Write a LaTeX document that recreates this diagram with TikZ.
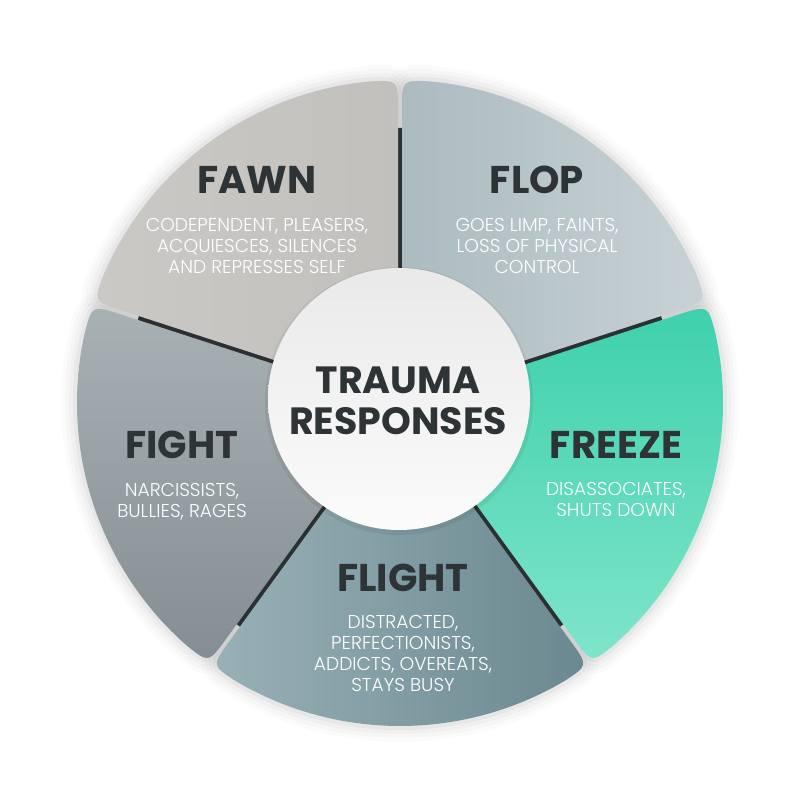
\documentclass[tikz,border=0pt]{standalone}
\usepackage{fontspec}
\setmainfont{Poppins}
\newfontfamily\lightfont{Poppins Light}
\usepackage{tikz}
\usetikzlibrary{positioning,calc}

\definecolor{ink}{HTML}{2E3335}
\definecolor{gapdark}{HTML}{2B3032}
\definecolor{fawnA}{HTML}{CBC9C6}
\definecolor{fawnB}{HTML}{C2C0BD}
\definecolor{flopA}{HTML}{ABBBC0}
\definecolor{flopB}{HTML}{C8D2D5}
\definecolor{freezeA}{HTML}{3ED0AC}
\definecolor{freezeB}{HTML}{80E5CA}
\definecolor{flightA}{HTML}{98B1B6}
\definecolor{flightB}{HTML}{6A888F}
\definecolor{fightA}{HTML}{A8B1B4}
\definecolor{fightB}{HTML}{848E92}

% one petal of the ring, from angle #1 to angle #2 (counter-clockwise)
\newcommand{\petal}[2]{%
  ($(#1:60)+(#1+90:2)$) -- ($(#1:293)+(#1+90:2)$)
  .. controls ($(#1:323)+(#1+90:2)$) .. (#1+5.3:323)
  arc[start angle=#1+5.3, end angle=#2-5.3, radius=323]
  .. controls ($(#2:323)+(#2-90:2)$) .. ($(#2:293)+(#2-90:2)$)
  -- ($(#2:60)+(#2-90:2)$) -- cycle}

\begin{document}
\begin{tikzpicture}[x=0.1mm,y=0.1mm,
  head/.style={inner sep=0pt,text=ink,font=\fontsize{11}{13}\selectfont\bfseries},
  desc/.style={inner sep=0pt,text=white,align=center,font=\fontsize{5.3}{6}\lightfont},
  halo/.style={draw=black,fill=none}]
\useasboundingbox[fill=white] (-400,-397) rectangle (400,403);
% soft shadow round the petals
\foreach \a/\b in {90/162,162/234,234/306,306/378,18/90}
  \foreach \w/\o in {9/0.015,6.8/0.02,4.5/0.025,2.3/0.035}
    \draw[halo,line width=\w pt,opacity=\o] \petal{\a}{\b};
% dark gaps between the petals
\fill[gapdark] (0,0) circle[radius=275];
% petals
\shade[left color=fawnA,right color=fawnB] \petal{90}{162};
\shade[top color=fightA,bottom color=fightB] \petal{162}{234};
\shade[left color=flightA,right color=flightB] \petal{234}{306};
\shade[top color=freezeA,bottom color=freezeB] \petal{306}{378};
\shade[left color=flopA,right color=flopB] \petal{18}{90};
% centre disc
\fill[black,opacity=0.06] (-1,2) circle[radius=134];
\shade[top color=gray!17,bottom color=gray!3] (-1,4) circle[radius=131];
\node[inner sep=0pt,text=ink,align=center,
  font=\fontsize{10.8}{11.6}\selectfont\bfseries] (centre) at (-2,2) {TRAUMA\\RESPONSES};
% labels
\node[head] (fawn) at (-143,223) {FAWN};
\node[desc,below=2.3mm of fawn] (fawnd) {CODEPENDENT, PLEASERS,\\ACQUIESCES, SILENCES\\AND REPRESSES SELF};
\node[head] (flop) at (137,223) {FLOP};
\node[desc,below=2.3mm of flop] (flopd) {GOES LIMP, FAINTS,\\LOSS OF PHYSICAL\\CONTROL};
\node[head] (freeze) at (216,-42) {FREEZE};
\node[desc,below=2.2mm of freeze] (freezed) {DISASSOCIATES,\\SHUTS DOWN};
\node[head] (flight) at (3,-175) {FLIGHT};
\node[desc,below=2.2mm of flight] (flightd) {DISTRACTED,\\PERFECTIONISTS,\\ADDICTS, OVEREATS,\\STAYS BUSY};
\node[head] (fight) at (-218,-42) {FIGHT};
\node[desc,below=2.3mm of fight] (fightd) {NARCISSISTS,\\BULLIES, RAGES};
\end{tikzpicture}
\end{document}
